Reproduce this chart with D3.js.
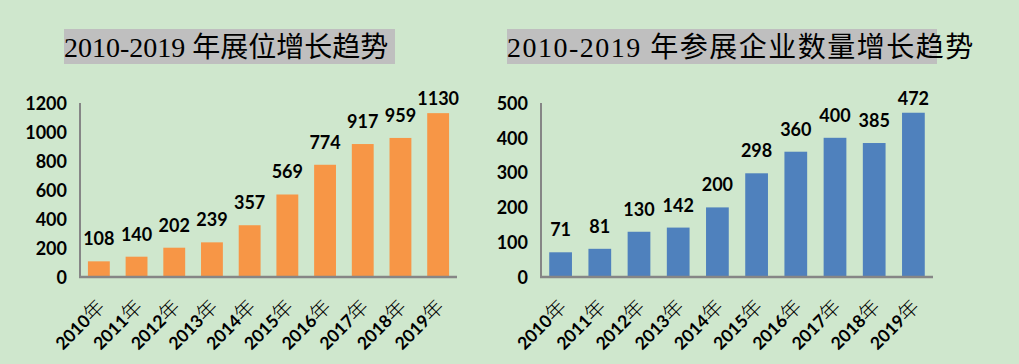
<!DOCTYPE html>
<html><head><meta charset="utf-8">
<script src="https://cdn.jsdelivr.net/npm/d3@7"></script>
<style>
html,body{margin:0;padding:0;background:#cfe7cd;}
svg{display:block;}
</style></head>
<body>
<svg id="c" width="1019" height="364"></svg>
<script>
const years = ["2010","2011","2012","2013","2014","2015","2016","2017","2018","2019"];
const boothValues = [108,140,202,239,357,569,774,917,959,1130];
const exhibitorValues = [71,81,130,142,200,298,360,400,385,472];
const boothTicks = [0,200,400,600,800,1000,1200];
const exhibitorTicks = [0,100,200,300,400,500];
const titles = ["2010-2019 年展位增长趋势","2010-2019 年参展企业数量增长趋势"];

const svg = d3.select("#c");
svg.append("rect").attr("width",1019).attr("height",364).attr("fill","#cfe7cd");

function drawChart(cfg){
  const g = svg.append("g");
  const x = d3.scaleBand().domain(years).range([cfg.x0,cfg.x1]).paddingInner(0.42).paddingOuter(0.21);
  const y = d3.scaleLinear().domain([0,cfg.max]).range([277,103]);

  // title
  const tg = g.append("g");
  const bg = tg.append("rect").attr("fill","#bfbfbf");
  tg.append("text").attr("x",cfg.tx).attr("y",57)
    .attr("font-family","'Liberation Serif','Noto Sans CJK SC',serif")
    .attr("font-size",28).attr("fill","#000")
    .style("letter-spacing", cfg.ls + "px")
    .text(cfg.title);
  bg.attr("x",cfg.tx).attr("y",29).attr("width",cfg.tw).attr("height",35);

  // y axis labels
  const yAxis = d3.axisLeft(y).tickValues(cfg.ticks).tickFormat(d3.format("d")).tickSize(0).tickPadding(13);
  const ya = g.append("g").attr("transform",`translate(${cfg.x0},0)`).call(yAxis);
  ya.select(".domain").remove();
  ya.selectAll("text").attr("font-family","Lato,'Open Sans',sans-serif").attr("font-weight","bold")
    .attr("font-size",18).attr("fill","#000").attr("dy","0.35em");

  // bars
  g.selectAll(".bar").data(cfg.values).enter().append("rect")
    .attr("x",(d,i)=>x(years[i])).attr("width",x.bandwidth())
    .attr("y",d=>y(d)).attr("height",d=>y(0)-y(d)).attr("fill",cfg.color);

  // value labels
  g.selectAll(".lbl").data(cfg.values).enter().append("text")
    .attr("x",(d,i)=>x(years[i])+x.bandwidth()/2)
    .attr("y",d=>Math.max(y(d)-16,105))
    .attr("text-anchor","middle")
    .attr("font-family","Lato,'Open Sans',sans-serif").attr("font-weight","bold")
    .attr("font-size",18).attr("fill","#000").text(d=>d);

  // axis lines
  g.append("line").attr("x1",cfg.x0).attr("x2",cfg.x0).attr("y1",103).attr("y2",277)
    .attr("stroke","#868686").attr("stroke-width",2);
  g.append("line").attr("x1",cfg.x0-1).attr("x2",cfg.x1).attr("y1",277).attr("y2",277)
    .attr("stroke","#868686").attr("stroke-width",2.5);

  // x labels
  const xl = g.selectAll(".xl").data(years).enter().append("text")
    .attr("transform",d=>`translate(${x(d)+x.bandwidth()/2+7},${308}) rotate(-45)`)
    .attr("text-anchor","end").attr("fill","#000");
  xl.append("tspan").attr("font-family","Lato,'Open Sans',sans-serif").attr("font-weight","bold")
    .attr("font-size",17.5).text(d=>d);
  xl.append("tspan").attr("font-family","'Noto Sans CJK SC',sans-serif").attr("font-weight",300)
    .attr("font-size",20).text("年");
}

drawChart({x0:80,x1:457,max:1200,ticks:boothTicks,values:boothValues,color:"#f79646",
  title:titles[0],tx:64,tw:331,ls:0});
drawChart({x0:541,x1:933,max:500,ticks:exhibitorTicks,values:exhibitorValues,color:"#4f81bd",
  title:titles[1],tx:507,tw:430,ls:1.5});
</script>
</body></html>
